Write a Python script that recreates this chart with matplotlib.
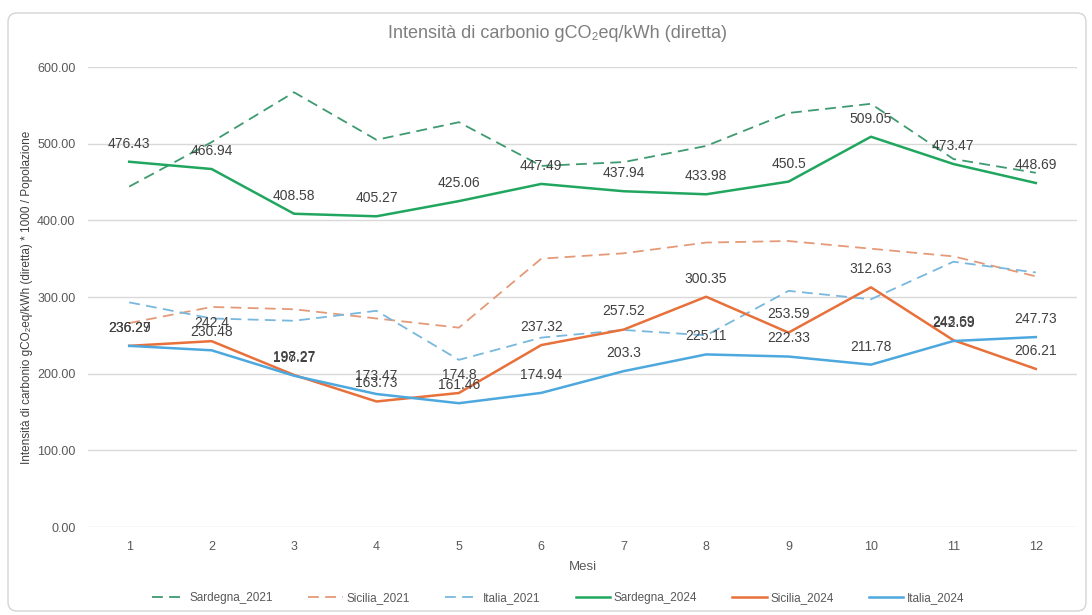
import matplotlib
matplotlib.use("Agg")
import matplotlib.pyplot as plt
from matplotlib.patches import FancyBboxPatch

# ---- data ----
months = [1, 2, 3, 4, 5, 6, 7, 8, 9, 10, 11, 12]
sardegna_2021 = [444, 502, 567, 505, 528, 471, 476, 497, 540, 552, 480, 462]
sicilia_2021 = [266, 287, 284, 272, 260, 350, 357, 371, 373, 363, 353, 327]
italia_2021 = [293, 272, 269, 282, 218, 247, 257, 250, 308, 297, 346, 332]
sardegna_2024 = [476.43, 466.94, 408.58, 405.27, 425.06, 447.49, 437.94, 433.98, 450.5, 509.05, 473.47, 448.69]
sicilia_2024 = [236.29, 242.4, 198.27, 163.73, 174.8, 237.32, 257.52, 300.35, 253.59, 312.63, 243.69, 206.21]
italia_2024 = [236.27, 230.48, 197.27, 173.47, 161.46, 174.94, 203.3, 225.11, 222.33, 211.78, 242.59, 247.73]
y_ticks = [0, 100, 200, 300, 400, 500, 600]

title = "Intensità di carbonio gCO₂eq/kWh (diretta)"
ylabel = "Intensità di carbonio gCO₂eq/kWh (diretta) * 1000 / Popolazione"
xlabel = "Mesi"

GREEN = "#21A65F"
ORANGE = "#E8703A"
BLUE = "#4DA8DE"
GREEN_D = "#3E9A70"
ORANGE_D = "#E49A78"
BLUE_D = "#79B8DE"

NARROW = ["Liberation Sans Narrow", "Liberation Sans", "DejaVu Sans"]
SANS = ["Liberation Sans", "DejaVu Sans"]

fig = plt.figure(figsize=(10.92, 6.15), dpi=100)
fig.patch.set_facecolor("white")
ax = fig.add_axes([88 / 1092, 1 - 527 / 615, (1077 - 88) / 1092, (527 - 67) / 615])

# frame around chart
frame = FancyBboxPatch((8, 4), 1078, 598, boxstyle="round,pad=0,rounding_size=9",
                       transform=None, facecolor="none", edgecolor="#D4D4D4", lw=1.0)
fig.patches.append(frame)

dash = (0, (6, 3.5))
ax.plot(months, sardegna_2021, color=GREEN_D, lw=1.3, linestyle=dash, label="Sardegna_2021", zorder=3)
ax.plot(months, sicilia_2021, color=ORANGE_D, lw=1.3, linestyle=dash, label="Sicilia_2021", zorder=3)
ax.plot(months, italia_2021, color=BLUE_D, lw=1.3, linestyle=dash, label="Italia_2021", zorder=3)
ax.plot(months, sardegna_2024, color=GREEN, lw=1.8, label="Sardegna_2024", zorder=4)
ax.plot(months, sicilia_2024, color=ORANGE, lw=1.8, label="Sicilia_2024", zorder=4)
ax.plot(months, italia_2024, color=BLUE, lw=1.8, label="Italia_2024", zorder=4)

for series in (sardegna_2024, sicilia_2024, italia_2024):
    for m, v in zip(months, series):
        ax.annotate(f"{v:g}", (m, v), xytext=(0, 8), textcoords="offset points",
                    ha="center", va="bottom", fontsize=10, color="#404040",
                    family=SANS, zorder=6)

ax.set_xlim(0.5, 12.5)
ax.set_ylim(0, 600)
ax.set_yticks(y_ticks)
ax.set_yticklabels([f"{t:.2f}" for t in y_ticks])
ax.set_xticks(months)
ax.set_xticklabels([str(m) for m in months])
ax.grid(axis="y", color="#D9D9D9", lw=1.0, zorder=0)
ax.set_axisbelow(True)
for s in ax.spines.values():
    s.set_visible(False)
ax.tick_params(axis="both", length=0, labelsize=9, labelcolor="#595959")
ax.tick_params(axis="y", pad=9)
ax.tick_params(axis="x", pad=10)
for lab in ax.get_xticklabels() + ax.get_yticklabels():
    lab.set_family(SANS)

ax.set_xlabel(xlabel, fontsize=9.5, color="#595959", family=NARROW, labelpad=6)
fig.text(27 / 1092, 1 - 297 / 615, ylabel, rotation=90, ha="center", va="center",
         fontsize=8.5, color="#404040", family=SANS)
fig.text(558 / 1092, 1 - 34 / 615, title, ha="center", va="center",
         fontsize=13, color="#7F7F7F", family=NARROW)

leg = fig.legend(loc="center", bbox_to_anchor=(558 / 1092, 1 - 598 / 615), ncol=6,
                 frameon=False, handlelength=2.9, columnspacing=3.0, handletextpad=0.3,
                 prop={"family": NARROW, "size": 8.5})
for t in leg.get_texts():
    t.set_color("#595959")

fig.savefig("out.png", dpi=100, facecolor="white")
